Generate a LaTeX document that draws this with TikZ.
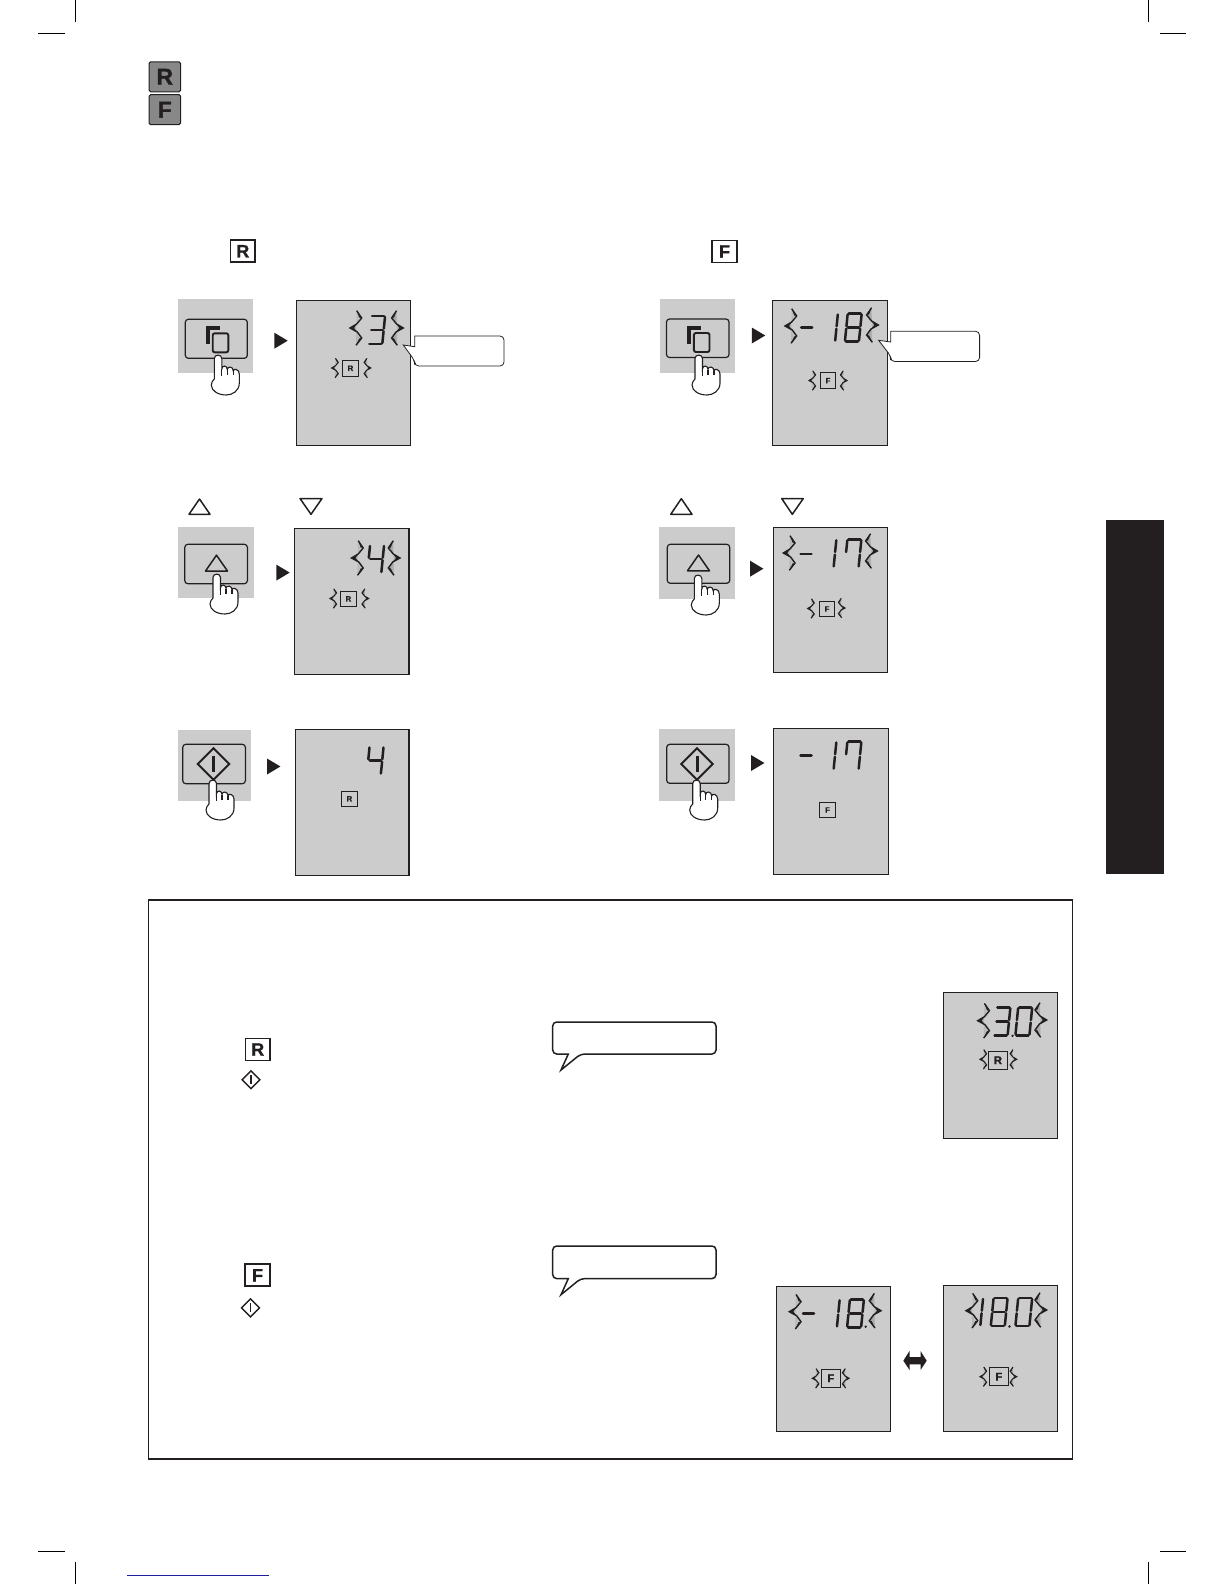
\documentclass[tikz,border=0pt]{standalone}
\usepackage{fontspec}
\setmainfont{Liberation Sans}
\newfontfamily\heavyfont[UprightFont=* Bold, FakeBold=1.2]{Liberation Sans}
\usetikzlibrary{arrows.meta, positioning}

\definecolor{lcdgray}{HTML}{CCCCCC}
\definecolor{keygray}{HTML}{888888}
\definecolor{inkdark}{HTML}{231F20}
\definecolor{rulenavy}{HTML}{1E1E9A}

% lit segments of the display digits
\newcommand{\dOne}{b,c}
\newcommand{\dThree}{a,b,c,d,g}
\newcommand{\dFour}{b,c,f,g}
\newcommand{\dSeven}{a,b,c,f}
\newcommand{\dEight}{a,b,c,d,e,f,g}
\newcommand{\dZero}{a,b,c,d,e,f}
\newcommand{\dMinus}{g}

\tikzset{
    sega/.style={insert path={(-6,-14) -- (6,-14)}},
    segb/.style={insert path={(7,-13) -- (7,-1.3)}},
    segc/.style={insert path={(7,1.3) -- (7,13)}},
    segd/.style={insert path={(-6,14) -- (6,14)}},
    sege/.style={insert path={(-7,1.3) -- (-7,13)}},
    segf/.style={insert path={(-7,-13) -- (-7,-1.3)}},
    segg/.style={insert path={(-5.5,0) -- (5.5,0)}},
    dseg/.style={xslant=.1, line width=1.25pt, line cap=round, draw=inkdark},
    digit/.pic={
        \foreach \s in #1 {\draw[dseg, seg\s];}
    },
    flash/.pic={
        \draw[draw=inkdark, left color=lcdgray!78!black, right color=lcdgray,
              line join=miter, miter limit=12]
            (6.7,-17.3) -- (11.7,-10) -- (6.7,-4) -- (0,0) -- (7.3,4) -- (11.7,10) -- (6,17.3);
        \fill[inkdark] (6.7,-17.3) -- (11.7,-10) -- (9.2,-10.5) -- cycle;
        \fill[inkdark] (0,0) -- (6.7,-4) -- (4,0) -- (7.3,4) -- cycle;
        \fill[inkdark] (6,17.3) -- (11.7,10) -- (9.2,10.5) -- cycle;
    },
    bigflash/.style={line width=.7pt},
    smallflash/.style={scale=.56, line width=.55pt},
    hand/.pic={
        \draw[fill=white, draw=inkdark, line width=.55pt]
            (-4,24) -- (-4,3.5) .. controls (-4,-1) and (3.5,-1) .. (3.5,3.5) -- (3.5,14)
            .. controls (3.5,10) and (9,10) .. (9,14.5)
            .. controls (9,11) and (15,11) .. (15,16)
            .. controls (15,13) and (21,14) .. (21,19) -- (21,28)
            .. controls (21,36) and (14,40) .. (8,40)
            .. controls (0,40) and (-7,36) .. (-7,30)
            .. controls (-7,27) and (-5.5,26) .. (-4,24);
        \draw[draw=inkdark, line width=.55pt] (3.5,14) -- (3.5,21) (9,14.5) -- (9,20) (15,16) -- (15,20);
    },
    copymark/.pic={
        \draw[inkdark, line width=1.9pt] (-8.6,5.2) -- (-8.6,-10.5) -- (3.7,-10.5);
        \draw[inkdark, fill=lcdgray, line width=.95pt, rounded corners=1pt] (-3.6,-5.5) rectangle (12,13.5);
    },
    upmark/.pic={
        \draw[inkdark, line width=.75pt, line join=round] (0,-8.8) -- (11,7) -- (-11,7) -- cycle;
    },
    startmark/.pic={
        \draw[inkdark, line join=miter] (0,-15.7) -- (15.7,0) -- (0,15.7) -- (-15.7,0) -- cycle;
        \fill[inkdark] (-1.5,-8) rectangle (1.5,8);
    },
    nextmark/.pic={
        \fill[inkdark] (-6.7,-8) -- (6.7,0) -- (-6.7,8) -- cycle;
    },
    lcd/.style={draw=inkdark, fill=lcdgray, line width=.55pt},
    keybg/.style={fill=lcdgray},
    keyface/.style={draw=inkdark, line width=.6pt, rounded corners=1.5pt},
    speech/.style={draw=inkdark, fill=white, rounded corners=2pt},
    keybox/.style={draw=inkdark, line width=.85pt, minimum width=12.2pt, minimum height=11pt,
        inner sep=0pt, font=\fontsize{9}{9}\selectfont\heavyfont, text=inkdark},
    tagbox/.style={draw=inkdark, line width=.45pt, minimum size=7.8pt,
        inner sep=0pt, font=\fontsize{3.9}{4}\selectfont\heavyfont, text=inkdark},
    bigtag/.style={tagbox, minimum size=9.2pt, font=\fontsize{5.6}{6}\selectfont\heavyfont},
    topkey/.style={draw=inkdark, fill=keygray, line width=.5pt, rounded corners=.8pt,
        minimum width=15.8pt, minimum height=15pt, inner sep=0pt,
        font=\fontsize{11.5}{12}\selectfont\heavyfont, text=inkdark}
}

\begin{document}
\begin{tikzpicture}[
        x=.5pt, y=-.5pt
    ]
    \useasboundingbox (0,0) rectangle (1224,1584);

    % Crop marks
    \draw[line width=.5pt] (75.5,0) -- (75.5,22);
    \draw[line width=.5pt] (38,33.5) -- (65,33.5);
    \draw[line width=.5pt] (1148.5,0) -- (1148.5,22);
    \draw[line width=.5pt] (1160,33.5) -- (1186,33.5);
    \draw[line width=.5pt] (75.5,1562) -- (75.5,1584);
    \draw[line width=.5pt] (38,1551.5) -- (65,1551.5);
    \draw[line width=.5pt] (1148.5,1562) -- (1148.5,1584);
    \draw[line width=.5pt] (1160,1551.5) -- (1186,1551.5);
    \draw[rulenavy, line width=.55pt] (127,1575.3) -- (269,1575.3);

    % Side tab
    \fill[inkdark] (1105.9,520) rectangle (1163.6,873.8);

    % Top keys
    \node[topkey] (rtop) at (164.8,76.8) {R};
    \node[topkey] (ftop) at (164.8,109.7) {F};

    % Step one keys
    \node[keybox] (rhead) at (242.8,251.2) {R};
    \node[keybox] (fhead) at (724.5,251.5) {F};

    % Left, step one
    \fill[keybg] (178.3,299.3) rectangle (252.7,372.7);
    \draw[keyface] (185.3,319.3) rectangle (247.3,358.3);
    \pic at (216.3,338.8) {copymark};
    \pic at (218.3,355) {hand};
    \pic at (281,340.7) {nextmark};
    \draw[lcd] (296.7,300.3) rectangle (410.3,445.3);
    \pic at (376.7,330) {digit=\dThree};
    \pic[bigflash] at (350,328) {flash};
    \pic[bigflash, xscale=-1] at (403.3,328) {flash};
    \node[tagbox] (rone) at (350.5,368.3) {R};
    \pic[smallflash] at (331.7,368) {flash};
    \pic[smallflash, xscale=-1] at (370.7,368) {flash};
    \draw[speech] (414.7,336) -- (504,336) -- (504,366) -- (414.7,366) -- (414.7,360.7)
        [sharp corners] -- (403.3,345) -- (414.7,346.7) -- cycle;

    % Right, step one
    \fill[keybg] (659.5,299) rectangle (735,372.7);
    \draw[keyface] (666.5,319) rectangle (729,357.5);
    \pic at (697.5,338.5) {copymark};
    \pic at (699,355) {hand};
    \pic at (758.5,335.5) {nextmark};
    \draw[lcd] (772.6,300.3) rectangle (887.7,445.4);
    \pic at (806.7,327.3) {digit=\dMinus};
    \pic at (829.5,327.5) {digit=\dOne};
    \pic at (853.3,327.5) {digit=\dEight};
    \pic[bigflash] at (785,326) {flash};
    \pic[bigflash, xscale=-1] at (878.3,325) {flash};
    \node[tagbox] (fone) at (828,380.7) {F};
    \pic[smallflash] at (809,380.5) {flash};
    \pic[smallflash, xscale=-1] at (847,380.5) {flash};
    \draw[speech] (890.7,331.3) -- (979.6,331.3) -- (979.6,361.5) -- (890.7,361.5) -- (890.7,356)
        [sharp corners] -- (878.6,340.3) -- (890.7,342) -- cycle;

    % Small up and down marks
    \draw[inkdark, line width=.75pt, line join=round] (199.5,499) -- (210,514.3) -- (189,514.3) -- cycle;
    \draw[inkdark, line width=.75pt, line join=round] (300,498.5) -- (322,498.5) -- (311,514.3) -- cycle;
    \draw[inkdark, line width=.75pt, line join=round] (681.3,498.7) -- (692,514.3) -- (670.7,514.3) -- cycle;
    \draw[inkdark, line width=.75pt, line join=round] (781.7,498.5) -- (803.3,498.5) -- (792.3,514.3) -- cycle;

    % Left, step two
    \fill[keybg] (177.7,527) rectangle (253.5,598);
    \draw[keyface] (184.8,544.3) rectangle (247.4,583.7);
    \pic at (216.5,564) {upmark};
    \pic at (217,574) {hand};
    \pic at (283,572.6) {nextmark};
    \draw[lcd] (294.5,528.2) rectangle (409,674.6);
    \pic at (375.7,559) {digit=\dFour};
    \pic[bigflash] at (351.5,558) {flash};
    \pic[bigflash, xscale=-1] at (400,558) {flash};
    \node[tagbox] (rtwo) at (348.4,598.9) {R};
    \pic[smallflash] at (330,598.5) {flash};
    \pic[smallflash, xscale=-1] at (368.6,598.5) {flash};

    % Right, step two
    \fill[keybg] (659,526.7) rectangle (735,598.7);
    \draw[keyface] (667.3,544.3) rectangle (729.7,583.3);
    \pic at (698.5,563.8) {upmark};
    \pic at (698.3,575) {hand};
    \pic at (756.7,568.7) {nextmark};
    \draw[lcd] (773.3,527.3) rectangle (887.7,672.3);
    \pic at (806,554) {digit=\dMinus};
    \pic at (828,553.3) {digit=\dOne};
    \pic at (853,553.3) {digit=\dSeven};
    \pic[bigflash] at (783.3,553) {flash};
    \pic[bigflash, xscale=-1] at (877.3,551) {flash};
    \node[tagbox] (ftwo) at (827,609) {F};
    \pic[smallflash] at (807.7,608.5) {flash};
    \pic[smallflash, xscale=-1] at (845,608) {flash};

    % Left, step three
    \fill[keybg] (177.7,730) rectangle (250.5,801);
    \draw[keyface] (182.8,744.3) rectangle (245.4,783.7);
    \pic[line width=1pt] at (213.5,764) {startmark};
    \pic at (213,780) {hand};
    \pic at (273.7,766.5) {nextmark};
    \draw[lcd] (295.5,729.1) rectangle (409,875.6);
    \pic at (375.2,760.5) {digit=\dFour};
    \node[tagbox] (rthree) at (349.4,798.8) {R};

    % Right, step three
    \fill[keybg] (659,729) rectangle (735,801);
    \draw[keyface] (666.7,744.3) rectangle (729,783.3);
    \pic[line width=1pt] at (697,764) {startmark};
    \pic at (696.7,780) {hand};
    \pic at (757.7,763) {nextmark};
    \draw[lcd] (773.3,728.3) rectangle (888.3,874.3);
    \pic at (806,755.5) {digit=\dMinus};
    \pic at (828,755.5) {digit=\dOne};
    \pic at (853,755.5) {digit=\dSeven};
    \node[tagbox] (fthree) at (827.5,810) {F};

    % Note frame
    \draw[inkdark, line width=.8pt] (148.5,899.8) rectangle (1072.5,1458.8);

    % Note, upper part
    \node[keybox] (rnote) at (257.7,1049.5) {R};
    \pic[scale=.57, line width=.7pt] at (251,1079.7) {startmark};
    \draw[speech, line width=.75pt] (552.7,1022) -- (716,1022) -- (716,1054) -- (580.7,1054)
        [sharp corners] -- (561,1070) -- (568.3,1054) [rounded corners=2pt] -- (552.7,1054) -- cycle;
    \draw[lcd] (943.3,992.7) rectangle (1057.3,1138.3);
    \pic at (1002,1021.3) {digit=\dThree};
    \pic at (1023.8,1021.3) {digit=\dZero};
    \fill[inkdark] (1012.5,1035.8) circle (1.3);
    \pic[bigflash] at (977.7,1020.7) {flash};
    \pic[bigflash, xscale=-1] at (1046.7,1020) {flash};
    \node[bigtag] (rfour) at (998,1060.3) {R};
    \pic[smallflash] at (980,1059.3) {flash};
    \pic[smallflash, xscale=-1] at (1016.7,1059.3) {flash};

    % Note, lower part
    \node[keybox] (fnote) at (257.5,1275.3) {F};
    \pic[scale=.57, line width=.7pt] at (250.5,1307.8) {startmark};
    \draw[speech, line width=.75pt] (552.7,1246) -- (716,1246) -- (716,1278.6) -- (580.7,1278.6)
        [sharp corners] -- (561,1294.7) -- (568.3,1278.6) [rounded corners=2pt] -- (552.7,1278.6) -- cycle;
    \draw[lcd] (776.3,1286.3) rectangle (890.3,1431.3);
    \pic at (808.5,1313.3) {digit=\dMinus};
    \pic at (831.3,1313.3) {digit=\dOne};
    \pic at (855.5,1313.3) {digit=\dEight};
    \fill[inkdark] (865.7,1326.7) circle (1.3);
    \pic[bigflash] at (789.3,1311.7) {flash};
    \pic[bigflash, xscale=-1] at (881,1310.7) {flash};
    \node[bigtag] (ffour) at (830.8,1378.3) {F};
    \pic[smallflash] at (812.3,1378.3) {flash};
    \pic[smallflash, xscale=-1] at (849,1378.3) {flash};
    \fill[inkdark] (903.3,1360.7) -- (909.5,1351) -- (909.5,1357) -- (920.5,1357) -- (920.5,1351)
        -- (926.7,1360.7) -- (920.5,1370) -- (920.5,1364.4) -- (909.5,1364.4) -- (909.5,1370) -- cycle;
    \draw[lcd] (943.3,1285.3) rectangle (1057.3,1431.3);
    \pic at (974.7,1312) {digit=\dOne};
    \pic at (999.2,1312) {digit=\dEight};
    \pic at (1023.8,1312) {digit=\dZero};
    \fill[inkdark] (1009.5,1326.5) circle (1.3);
    \pic[bigflash] at (966,1310.7) {flash};
    \pic[bigflash, xscale=-1] at (1046.7,1310) {flash};
    \node[bigtag] (ffive) at (998.8,1376.7) {F};
    \pic[smallflash] at (980,1376.7) {flash};
    \pic[smallflash, xscale=-1] at (1016.7,1376.7) {flash};

\end{tikzpicture}
\end{document}
